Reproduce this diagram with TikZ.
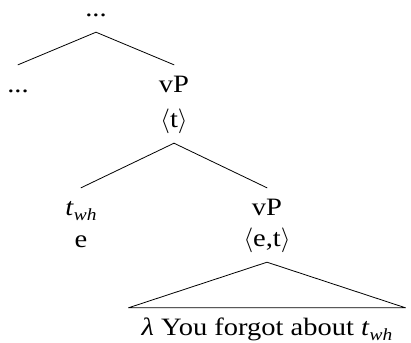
\documentclass[tikz,border=0pt]{standalone}
\usepackage{fontspec}
\setmainfont{Liberation Serif}[FakeStretch=1.14]
\usetikzlibrary{positioning}
\newcommand{\lowsub}[1]{\raisebox{-5bp}{\fontsize{17bp}{19bp}\selectfont\itshape #1}}

\begin{document}
\begin{tikzpicture}[x=1bp, y=-1bp, line cap=round, line join=round, font=\fontsize{25bp}{29bp}\selectfont,
    lab/.style={anchor=base, inner xsep=0pt, inner ysep=11bp, text height=16bp, text depth=5bp},
    branch/.style={line width=0.8bp}]
  \useasboundingbox (0,0) rectangle (411,343);
  % upper fork
  \node[lab, text height=4bp, inner ysep=2bp] (top) at (96,16) {...};
  \node[lab] (dots) at (18,92) {...};
  \node[lab] (vp) at (174,92) {vP};
  \node[lab] (vpt) at (174,127) {$\langle$t$\rangle$};
  \draw[branch] ([yshift=-9bp]top.south) -- (dots.north);
  \draw[branch] ([yshift=-9bp]top.south) -- (vp.north);
  % lower fork
  \node[lab] (twh) at (81,215) {\textit{t}\lowsub{wh}};
  \node[lab] (twht) at (81,247) {e};
  \node[lab] (vpb) at (267,215) {vP};
  \node[lab] (vpbt) at (267,246) {$\langle$e,t$\rangle$};
  \draw[branch] (vpt.south) -- (twh.north);
  \draw[branch] (vpt.south) -- (vpb.north);
  % roof
  \node[lab, inner xsep=13bp] (leaf) at (267,335) {\textit{λ} You forgot about \textit{t}\lowsub{wh}};
  \draw[branch] (vpbt.south) -- (leaf.north west) -- (leaf.north east) -- cycle;
\end{tikzpicture}
\end{document}
